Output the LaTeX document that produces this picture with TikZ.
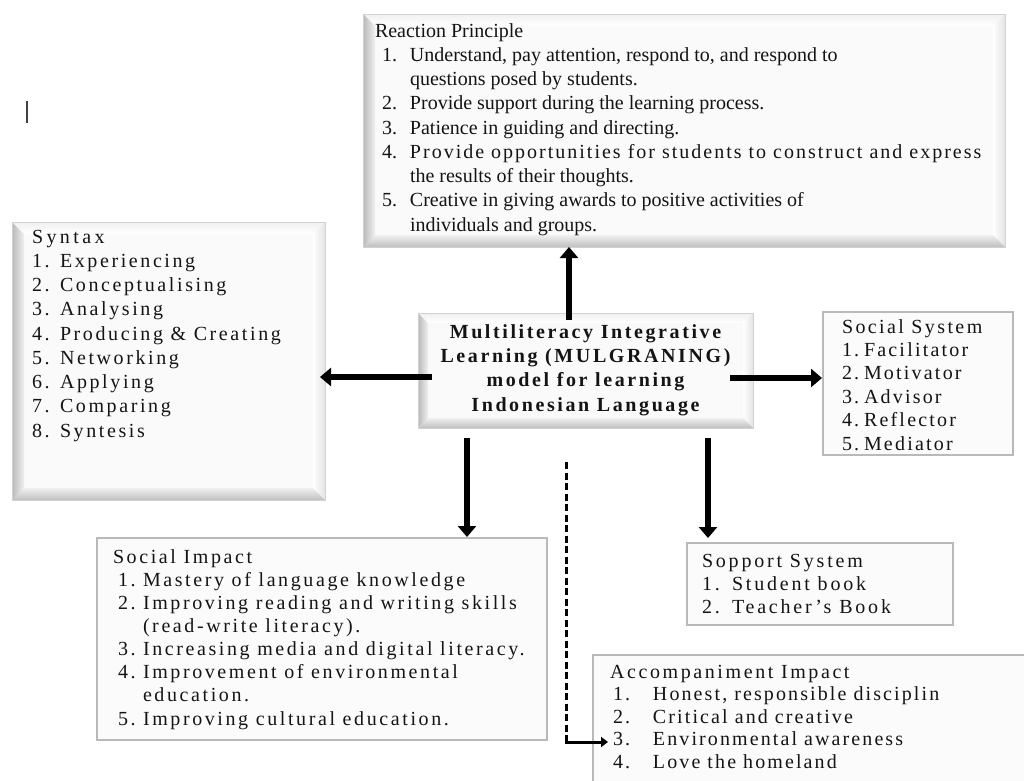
\documentclass[tikz,border=0pt]{standalone}
\usepackage{fontspec}
\setmainfont{Liberation Serif}
\usetikzlibrary{arrows.meta,calc}
\newcommand\bevelpic[1]{%
  \coordinate (bNW) at (path picture bounding box.north west);
  \coordinate (bSE) at (path picture bounding box.south east);
  \coordinate (bNE) at (path picture bounding box.north east);
  \coordinate (bSW) at (path picture bounding box.south west);
  \shade[top color=gray!12, bottom color=white] (bNW) -- (bNE) -- ($(bNE)+(-#1,-#1)$) -- ($(bNW)+(#1,-#1)$) -- cycle;
  \shade[left color=white, right color=gray!22] (bNE) -- (bSE) -- ($(bSE)+(-#1,#1)$) -- ($(bNE)+(-#1,-#1)$) -- cycle;
  \shade[top color=gray!12, bottom color=gray!50] (bSW) -- (bSE) -- ($(bSE)+(-#1,#1)$) -- ($(bSW)+(#1,#1)$) -- cycle;
  \shade[left color=gray!55, right color=gray!12] (bNW) -- (bSW) -- ($(bSW)+(#1,#1)$) -- ($(bNW)+(#1,-#1)$) -- cycle;
}
\newcommand\ls[1]{\addfontfeatures{LetterSpace=#1}}
\tikzset{
  x=1pt, y=-1pt,
  bevelbox/.style={rectangle, inner sep=0pt, outer sep=0pt, anchor=north west,
    fill=gray!4, draw=gray!35, line width=0.6pt, path picture={\bevelpic{#1}}},
  bevelbox/.default=12pt,
  plainbox/.style={rectangle, inner sep=0pt, outer sep=0pt, anchor=north west,
    fill=gray!3, draw=gray!55, line width=1.2pt},
  txt/.style={inner sep=0pt, outer sep=0pt, anchor=base west, text=black!92,
    font=\fontsize{20}{#1}\selectfont},
  bigarrow/.style={line width=6.5pt, -{Triangle[width=18pt,length=11pt]}},
}
\begin{document}
\begin{tikzpicture}
\useasboundingbox (0,0) rectangle (1024,780);
\clip (0,0) rectangle (1024,780);
\fill[white] (0,0) rectangle (1024,780);

% boxes
\node[bevelbox, minimum width=642pt, minimum height=233pt] (reaction) at (363,14) {};
\node[bevelbox, minimum width=313pt, minimum height=278pt] (syntax) at (12,222) {};
\node[bevelbox=10pt, minimum width=335pt, minimum height=115pt] (center) at (418,313) {};
\node[plainbox, minimum width=190pt, minimum height=143pt] (social) at (823,312) {};
\node[plainbox, minimum width=450pt, minimum height=202pt] (impact) at (97,538) {};
\node[plainbox, minimum width=266pt, minimum height=82pt] (support) at (687,543) {};
\node[plainbox, minimum width=460pt, minimum height=150pt] (accomp) at (593,655) {};

% texts
\node[txt=24.25pt] (reactiontxt) at (375,37) {%
\begin{tabular}[t]{@{\hspace{7pt}}p{28pt}@{}l@{}}
\multicolumn{2}{@{}l@{}}{Reaction Principle}\\
1. & Understand, pay attention, respond to, and respond to\\
   & questions posed by students.\\
2. & Provide support during the learning process.\\
3. & Patience in guiding and directing.\\
4. & {\ls{10}Provide opportunities for students to construct and express}\\
   & the results of their thoughts.\\
5. & Creative in giving awards to positive activities of\\
   & individuals and groups.
\end{tabular}};

\node[txt=24.25pt] (syntaxtxt) at (32,243) {\ls{13}%
\begin{tabular}[t]{@{}p{28pt}@{}l@{}}
\multicolumn{2}{@{}l@{}}{\ls{17}Syntax}\\
1. & Experiencing\\
2. & Conceptualising\\
3. & Analysing\\
4. & Producing \& Creating\\
5. & Networking\\
6. & Applying\\
7. & Comparing\\
8. & Syntesis
\end{tabular}};

\node[inner sep=0pt, anchor=base, text=black!92, font=\fontsize{20}{24.4pt}\selectfont\bfseries] (centertxt) at (585.5,338) {\ls{13}%
\begin{tabular}[t]{@{}c@{}}
Multiliteracy Integrative\\
Learning (MULGRANING)\\
model for learning\\
Indonesian Language
\end{tabular}};

\node[txt=23.4pt] (socialtxt) at (842,333) {\ls{11}%
\begin{tabular}[t]{@{}p{22pt}@{}l@{}}
\multicolumn{2}{@{}l@{}}{\ls{12}Social System}\\
1. & Facilitator\\
2. & Motivator\\
3. & Advisor\\
4. & Reflector\\
5. & Mediator
\end{tabular}};

\node[txt=23.15pt] (impacttxt) at (113,563) {\ls{13}%
\begin{tabular}[t]{@{\hspace{5pt}}p{25pt}@{}l@{}}
\multicolumn{2}{@{}l@{}}{Social Impact}\\
1. & Mastery of language knowledge\\
2. & Improving reading and writing skills\\
   & (read-write literacy).\\
3. & Increasing media and digital literacy.\\
4. & Improvement of environmental\\
   & education.\\
5. & Improving cultural education.
\end{tabular}};

\node[txt=23pt] (supporttxt) at (702,567) {\ls{14}%
\begin{tabular}[t]{@{}p{30pt}@{}l@{}}
\multicolumn{2}{@{}l@{}}{Sopport System}\\
1. & Student book\\
2. & Teacher's Book
\end{tabular}};

\node[txt=22.5pt] (accomptxt) at (610,678) {\ls{10.5}%
\begin{tabular}[t]{@{\hspace{3pt}}p{40pt}@{}l@{}}
\multicolumn{2}{@{}l@{}}{\ls{13}Accompaniment Impact}\\
1. & Honest, responsible disciplin\\
2. & Critical and creative\\
3. & Environmental awareness\\
4. & Love the homeland
\end{tabular}};

% connectors
\coordinate (upstart) at ($(center.north)+(-16.5,7)$);
\draw[bigarrow] (upstart) -- (upstart |- reaction.south);

\coordinate (lstart) at ($(center.west)+(14,6.5)$);
\draw[bigarrow] (lstart) -- ($(lstart -| syntax.east)+(-5,0)$);

\coordinate (rstart) at ($(center.east)+(-23,7.5)$);
\draw[bigarrow] (rstart) -- ($(rstart -| social.west)+(-1,0)$);

\coordinate (dlstart) at ($(center.south)+(-118.5,10)$);
\draw[bigarrow] (dlstart) -- ($(dlstart |- impact.north)+(0,-1)$);

\coordinate (drstart) at ($(center.south)+(122.5,10)$);
\draw[bigarrow] (drstart) -- ($(drstart |- support.north)+(0,-5)$);

\coordinate (dstart) at ($(center.south)+(-19.5,34)$);
\coordinate (dcorner) at ($(dstart |- accomp.north)+(0,87)$);
\draw[line width=3pt, dash pattern=on 7pt off 3.5pt] (dstart) -- (dcorner);
\draw[line width=3pt, -{Triangle[width=10pt,length=7pt]}] ([xshift=-1.5pt]dcorner) -- ($(dcorner -| accomp.west)+(15,0)$);

% stray cursor mark
\draw[line width=2pt, black!75] (27,101) -- (27,123);
\end{tikzpicture}
\end{document}
